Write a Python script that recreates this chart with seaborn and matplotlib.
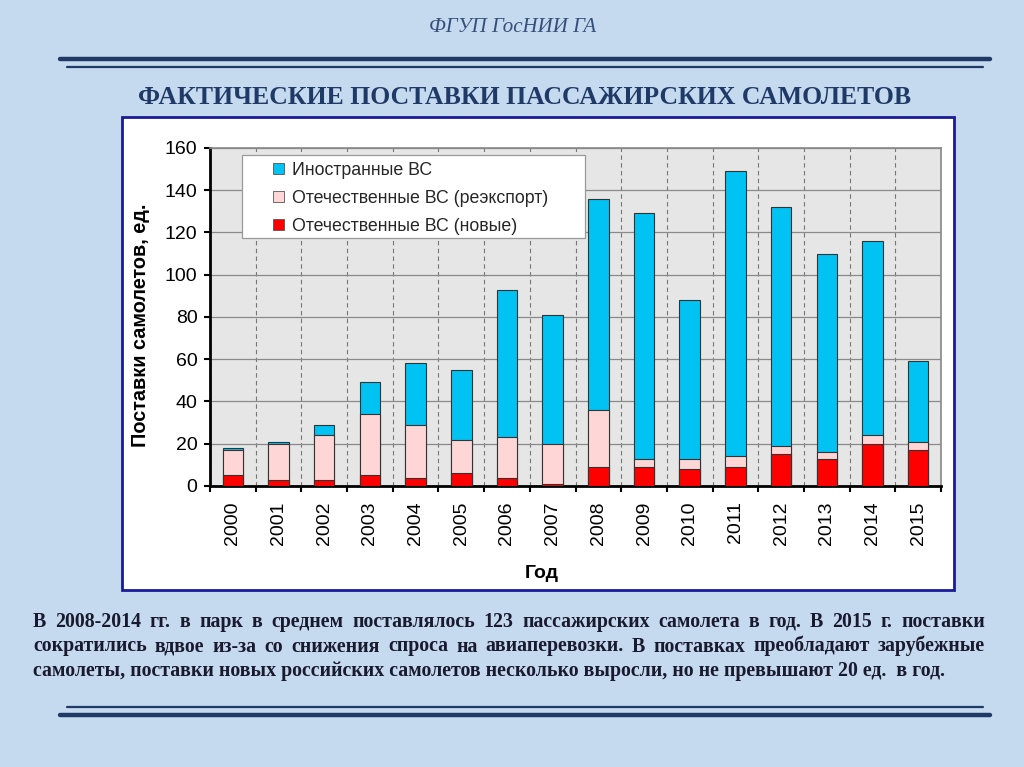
import matplotlib
matplotlib.use("Agg")
import matplotlib.pyplot as plt
import seaborn as sns
import pandas as pd
import numpy as np
from matplotlib.patches import Rectangle, Patch
from matplotlib.lines import Line2D

years = ["2000", "2001", "2002", "2003", "2004", "2005", "2006", "2007",
         "2008", "2009", "2010", "2011", "2012", "2013", "2014", "2015"]
new_domestic = [5, 3, 3, 5, 4, 6, 4, 1, 9, 9, 8, 9, 15, 13, 20, 17]
reexport = [12, 17, 21, 29, 25, 16, 19, 19, 27, 4, 5, 5, 4, 3, 4, 4]
foreign = [1, 1, 5, 15, 29, 33, 70, 61, 100, 116, 75, 135, 113, 94, 92, 38]

labels = ["Иностранные ВС", "Отечественные ВС (реэкспорт)", "Отечественные ВС (новые)"]
colors = ["#00c3f3", "#ffd6d6", "#ff0000"]

df = pd.DataFrame({"year": years, "new": new_domestic, "re": reexport, "for": foreign})
df["lvl2"] = df["new"] + df["re"]
df["lvl3"] = df["lvl2"] + df["for"]

sns.set_theme(style="white")
plt.rcParams["font.family"] = ["Liberation Sans", "DejaVu Sans"]

W, H = 1024, 767
fig = plt.figure(figsize=(W / 100, H / 100), dpi=100)
fig.patch.set_facecolor("#c5d9ef")

def fx(x):
    return x / W

def fy(y):
    return 1 - y / H

# header
fig.text(fx(513), fy(28), "ФГУП ГосНИИ ГА", ha="center", va="center",
         fontfamily="Liberation Serif", fontstyle="italic", fontsize=15,
         color="#34507a")
navy = "#1f3a66"
fig.add_artist(Line2D([fx(60), fx(990)], [fy(59), fy(59)], color=navy, lw=3.2))
fig.add_artist(Line2D([fx(67), fx(983)], [fy(67), fy(67)], color=navy, lw=1.6))
fig.text(fx(525), fy(97), "ФАКТИЧЕСКИЕ ПОСТАВКИ ПАССАЖИРСКИХ САМОЛЕТОВ",
         ha="center", va="center", fontfamily="Liberation Serif",
         fontweight="bold", fontsize=18.5, color=navy)

# chart frame
fig.add_artist(Rectangle((fx(122), fy(590)), fx(954) - fx(122), fy(117) - fy(590),
                         facecolor="white", edgecolor="#1a1a9a", lw=2,
                         transform=fig.transFigure, zorder=0))

ax = fig.add_axes([fx(210), fy(486), fx(941) - fx(210), fy(148) - fy(486)])
ax.set_facecolor("#e6e6e6")

sns.barplot(data=df, x="year", y="lvl3", color=colors[0], width=0.45,
            edgecolor="#333333", linewidth=0.8, saturation=1, ax=ax, zorder=3)
sns.barplot(data=df, x="year", y="lvl2", color=colors[1], width=0.45,
            edgecolor="#333333", linewidth=0.8, saturation=1, ax=ax, zorder=4)
sns.barplot(data=df, x="year", y="new", color=colors[2], width=0.45,
            edgecolor="#333333", linewidth=0.8, saturation=1, ax=ax, zorder=5)

n = len(years)
ax.set_xlim(-0.5, n - 0.5)
ax.set_ylim(0, 160)
ax.set_yticks(np.arange(0, 161, 20))
ax.yaxis.grid(True, color="#8a8a8a", linestyle="-", linewidth=0.9)
ax.set_xticks(np.arange(-0.5, n, 1), minor=True)
ax.xaxis.grid(True, which="minor", color="#777777", linestyle=(0, (4, 3)), linewidth=0.8)
ax.set_axisbelow(True)
ax.tick_params(axis="x", which="major", length=0, labelsize=14, rotation=90, pad=11,
               labelcolor="black")
ax.tick_params(axis="x", which="minor", length=4, width=1.5, color="black", direction="out",
               bottom=True)
ax.tick_params(axis="y", length=4, width=1.5, color="black", direction="out",
               labelsize=14, left=True, labelcolor="black", pad=5)
for s in ["left", "bottom"]:
    ax.spines[s].set_color("black")
    ax.spines[s].set_linewidth(2)
for s in ["top", "right"]:
    ax.spines[s].set_color("#888888")
    ax.spines[s].set_linewidth(1.2)
ax.set_xlabel("Год", fontsize=14, fontweight="bold", color="black", va="center")
ax.xaxis.set_label_coords((542 - 210) / 731, (486 - 573) / 338)
ax.set_ylabel("Поставки самолетов, ед.", fontsize=14.3, fontweight="bold", color="black",
              va="center")
ax.yaxis.set_label_coords((140 - 210) / 731, (486 - 325) / 338)

# legend: frame drawn separately to match the inset handles
lx0, lx1, ly0, ly1 = 242, 585, 155, 238
ax.add_patch(Rectangle(((lx0 - 210) / 731, (486 - ly1) / 338), (lx1 - lx0) / 731,
                       (ly1 - ly0) / 338, transform=ax.transAxes, facecolor="white",
                       edgecolor="#999999", lw=0.9, zorder=9))
handles = [Patch(facecolor=c, edgecolor="#555555", linewidth=0.6) for c in colors]
leg = ax.legend(handles, labels, loc="upper left",
                bbox_to_anchor=((273 - 210) / 731, (486 - 162) / 338),
                fontsize=12.8, frameon=False,
                handlelength=0.6, handleheight=0.6, handletextpad=0.45,
                labelspacing=0.62, borderpad=0, borderaxespad=0)
leg.set_zorder(10)

# body text, justified
body = [
    "В 2008-2014 гг. в парк в среднем поставлялось 123 пассажирских самолета в год. В 2015 г. поставки",
    "сократились вдвое из-за со снижения спроса на авиаперевозки. В поставках преобладают зарубежные",
    "самолеты, поставки новых российских самолетов несколько выросли, но не превышают 20 ед.  в год.",
]
renderer = fig.canvas.get_renderer()
x_left, x_right = 33, 985
body_kw = dict(fontfamily="Liberation Serif", fontweight="bold", fontsize=14.3,
               color="#1a1a2e", va="baseline", ha="left")
for i, line in enumerate(body):
    y = fy(627 + i * 24.5)
    if i == len(body) - 1:
        fig.text(fx(x_left), y, line, **body_kw)
        continue
    words = line.split()
    texts = [fig.text(0, y, w, **body_kw) for w in words]
    widths = [t.get_window_extent(renderer).width for t in texts]
    gap = (x_right - x_left - sum(widths)) / (len(words) - 1)
    xpos = x_left
    for t, w in zip(texts, widths):
        t.set_x(fx(xpos))
        xpos += w + gap

fig.add_artist(Line2D([fx(67), fx(983)], [fy(707), fy(707)], color=navy, lw=1.6))
fig.add_artist(Line2D([fx(60), fx(990)], [fy(715), fy(715)], color=navy, lw=3.2))

fig.savefig("out.png", dpi=100, facecolor=fig.get_facecolor())
